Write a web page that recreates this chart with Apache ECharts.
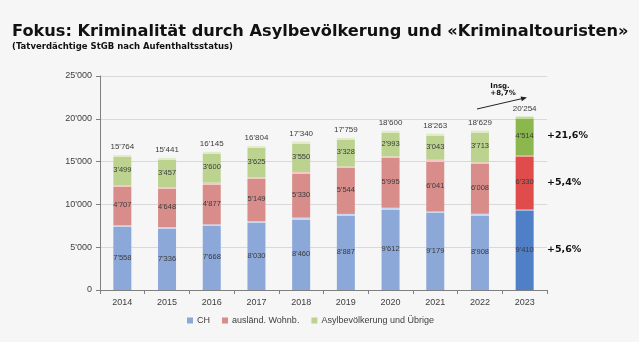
<!DOCTYPE html>
<html>
<head>
<meta charset="utf-8">
<script src="https://cdn.jsdelivr.net/npm/echarts@6/dist/echarts.min.js"></script>
<style>
html,body{margin:0;padding:0;background:#f6f6f6;}
#c{width:639px;height:342px;}
</style>
</head>
<body>
<div id="c"></div>
<script>
var years = ['2014','2015','2016','2017','2018','2019','2020','2021','2022','2023'];
var ch    = [7558, 7336, 7668, 8030, 8460, 8887, 9612, 9179, 8908, 9410];
var ausl  = [4707, 4648, 4877, 5149, 5330, 5544, 5995, 6041, 6008, 6330];
var asyl  = [3499, 3457, 3600, 3625, 3550, 3328, 2993, 3043, 3713, 4514];
var seriesNames = ['CH', 'ausländ. Wohnb.', 'Asylbevölkerung und Übrige'];
var yTicks = [0, 5000, 10000, 15000, 20000, 25000];
var changeLabels = ['+5,6%', '+5,4%', '+21,6%'];
var totalChange = ['Insg.', '+8,7%'];

function fmt(v){ return String(v).replace(/\B(?=(\d{3})+(?!\d))/g, "'"); }

var YMAX = 25000, PLOT_H = 214;
var palette = [
  {base:'#8ca8d9', strip:'#c9d7ef', dark:'#4f7fc6', darkStrip:'#9fb8e2'},
  {base:'#d98d8b', strip:'#f3c9c5', dark:'#e04c4c', darkStrip:'#f3a09c'},
  {base:'#bcd390', strip:'#e0ebc8', dark:'#8cb74f', darkStrip:'#c3dc98'}
];

function makeData(arr, p){
  return arr.map(function(v, i){
    var last = (i === arr.length - 1);
    var base = last ? p.dark : p.base;
    var strip = last ? p.darkStrip : p.strip;
    var h = v / YMAX * PLOT_H;
    var f = Math.min(0.5, 2 / h);
    return {
      value: v,
      itemStyle: {
        color: new echarts.graphic.LinearGradient(0, 0, 0, 1, [
          {offset: 0, color: strip},
          {offset: f, color: strip},
          {offset: f, color: base},
          {offset: 1, color: base}
        ])
      }
    };
  });
}

var totals = years.map(function(_, i){ return ch[i] + ausl[i] + asyl[i]; });

var labelInside = {
  show: true, position: 'inside', fontSize: 7.5,
  fontFamily: 'Liberation Sans', color: '#3a3a3a',
  formatter: function(p){ return fmt(p.value); }
};

var chart = echarts.init(document.getElementById('c'), null, {renderer: 'canvas'});

var option = {
  backgroundColor: '#f6f6f6',
  animation: false,
  grid: {left: 100, right: 92, top: 76, bottom: 52, containLabel: false},
  legend: {
    data: seriesNames.map(function(n, k){
      return {name: n, itemStyle: {color: palette[k].base}};
    }),
    left: 182, top: 311,
    itemWidth: 6, itemHeight: 6, itemGap: 12,
    icon: 'rect',
    textStyle: {fontFamily: 'Liberation Sans', fontSize: 9, color: '#404040', padding: [0,0,0,-1]}
  },
  xAxis: {
    type: 'category',
    data: years,
    axisLine: {lineStyle: {color: '#7f7f7f', width: 1}},
    axisTick: {show: true, alignWithLabel: false, length: 4, lineStyle: {color: '#7f7f7f'}},
    axisLabel: {fontFamily: 'Liberation Sans', fontSize: 9, color: '#404040', margin: 8}
  },
  yAxis: {
    type: 'value',
    min: yTicks[0], max: yTicks[yTicks.length - 1], interval: yTicks[1] - yTicks[0],
    axisLine: {show: true, lineStyle: {color: '#7f7f7f', width: 1}},
    axisTick: {show: true, length: 4, lineStyle: {color: '#7f7f7f'}},
    splitLine: {show: true, lineStyle: {color: '#d9d9d9', width: 1}},
    axisLabel: {fontFamily: 'Liberation Sans', fontSize: 9, color: '#404040', margin: 8,
      formatter: function(v){ return fmt(v); }}
  },
  series: [
    {name: seriesNames[0], type: 'bar', stack: 't', barWidth: 18, data: makeData(ch, palette[0]), label: labelInside},
    {name: seriesNames[1], type: 'bar', stack: 't', barWidth: 18, data: makeData(ausl, palette[1]), label: labelInside},
    {name: seriesNames[2], type: 'bar', stack: 't', barWidth: 18, data: makeData(asyl, palette[2]), label: labelInside},
    {name: 'Total', type: 'bar', stack: 't', barWidth: 18,
      data: totals.map(function(){ return 0; }),
      itemStyle: {color: 'transparent'},
      label: {show: true, position: 'top', distance: 4, fontFamily: 'Liberation Sans', fontSize: 8, color: '#3a3a3a',
        formatter: function(p){ return fmt(totals[p.dataIndex]); }}
    }
  ]
};
chart.setOption(option);

var lastIdx = years.length - 1;
function yOf(v){ return chart.convertToPixel({gridIndex: 0}, [lastIdx, v])[1]; }
var segMid = [
  yOf(ch[lastIdx] / 2),
  yOf(ch[lastIdx] + ausl[lastIdx] / 2),
  yOf(ch[lastIdx] + ausl[lastIdx] + asyl[lastIdx] / 2)
];
var graphics = [
  {type: 'text', x: 12, y: 32, style: {text: 'Fokus: Kriminalität durch Asylbevölkerung und «Kriminaltouristen»', font: 'bold 16.2px "DejaVu Sans"', fill: '#111', verticalAlign: 'middle'}},
  {type: 'text', x: 12, y: 46.5, style: {text: '(Tatverdächtige StGB nach Aufenthaltsstatus)', font: 'bold 8.5px "DejaVu Sans"', fill: '#111', verticalAlign: 'middle'}}
];
for (var k = 0; k < 3; k++) {
  graphics.push({type: 'text', x: 547, y: segMid[k], style: {text: changeLabels[k], font: 'bold 9.5px "DejaVu Sans"', fill: '#111', verticalAlign: 'middle', align: 'left'}});
}
graphics.push({type: 'text', x: 500, y: 86, style: {text: totalChange[0], font: 'bold 7px "DejaVu Sans"', fill: '#111', verticalAlign: 'middle', align: 'center'}});
graphics.push({type: 'text', x: 503, y: 93.5, style: {text: totalChange[1], font: 'bold 7px "DejaVu Sans"', fill: '#111', verticalAlign: 'middle', align: 'center'}});
graphics.push({type: 'line', shape: {x1: 477, y1: 109, x2: 522, y2: 98.6}, style: {stroke: '#222', lineWidth: 1}});
graphics.push({type: 'polygon', shape: {points: [[527, 97.4], [521.8, 101.2], [520.6, 96.4]]}, style: {fill: '#222'}});
chart.setOption({graphic: graphics});
</script>
</body>
</html>
